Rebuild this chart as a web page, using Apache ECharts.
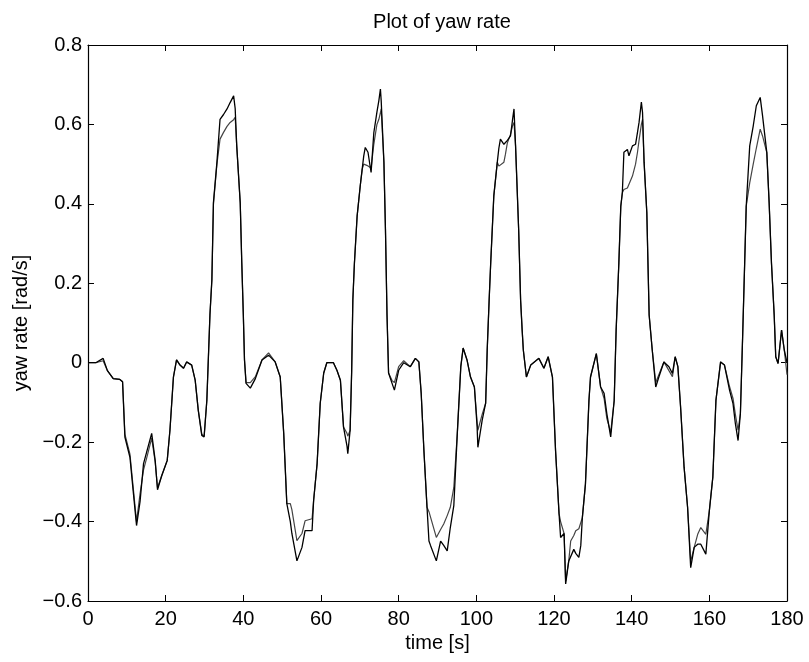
<!DOCTYPE html>
<html>
<head>
<meta charset="utf-8">
<script src="https://cdn.jsdelivr.net/npm/echarts@6/dist/echarts.min.js"></script>
<style>
html,body{margin:0;padding:0;background:#fff;}
#chart{width:809px;height:662px;}
</style>
</head>
<body>
<div id="chart"></div>
<script>
// time [s]
const time = [0,2,3.9,5,6.5,8.2,8.9,9.5,10.8,11.6,12.5,13.4,14.3,15.1,16.4,17.3,17.9,19.0,20.4,21.1,22.0,22.8,23.7,24.6,25.4,26.7,27.6,28.4,29.3,29.9,30.6,31.4,31.9,32.3,33.2,34.0,34.9,35.8,36.6,37.5,37.9,38.3,39.2,39.6,40.0,40.3,40.7,41.8,43.1,44.8,46.5,48.2,49.5,50.4,51.2,52.1,52.5,53.8,55.1,55.9,57.7,58.1,59.0,59.8,60.7,61.5,63.2,64.1,65.0,65.8,66.7,66.9,67.5,67.9,68.2,68.6,69.3,70.1,70.6,71.0,71.4,71.8,72.1,72.9,73.6,74.4,74.9,75.3,75.5,76.2,76.6,77.0,77.4,78.3,78.9,80.0,81.3,83.0,84.3,85.2,85.8,86.5,87.3,87.8,88.2,89.7,90.8,91.6,92.5,93.3,94.2,95.1,96.0,96.6,97.6,98.5,99.5,100.2,100.4,101.5,102.4,102.8,103.3,103.7,104.5,105.4,105.8,106.2,107.1,107.5,108.0,108.8,109.3,109.7,110.1,110.9,111.4,111.8,112.1,112.9,114.0,116.1,117.4,118.5,119.6,120.4,121.3,121.7,122.6,123.0,123.8,124.3,125.1,125.6,126.4,126.9,127.3,128.1,129.0,129.4,130.9,132.0,132.9,133.6,134.6,135.5,136.0,136.7,137.2,137.6,138.0,138.9,139.3,140.2,141.0,141.5,141.9,142.5,142.8,143.2,143.9,144.5,145.3,146.2,147.0,148.3,149.6,150.5,151.2,151.9,152.6,153.5,154.4,155.2,156.1,157.0,157.8,159.1,160.0,160.9,161.7,162.9,163.9,165.2,166.1,166.7,167.4,168.0,168.6,169.1,169.5,170.4,171.3,172.1,173.1,173.7,174.8,175.4,176.0,176.7,177.1,177.7,178.6,179.3,180];

// yaw rate [rad/s], first trace
const yawA = [0,0,0.011,-0.02,-0.04,-0.042,-0.048,-0.187,-0.238,-0.32,-0.41,-0.35,-0.254,-0.225,-0.178,-0.246,-0.32,-0.284,-0.246,-0.17,-0.036,0.007,-0.006,-0.014,0.002,-0.006,-0.044,-0.12,-0.183,-0.187,-0.095,0.12,0.209,0.403,0.505,0.613,0.625,0.639,0.655,0.672,0.64,0.546,0.403,0.251,0.12,0.007,-0.052,-0.064,-0.04,0.007,0.019,0.002,-0.036,-0.178,-0.355,-0.40,-0.43,-0.499,-0.465,-0.423,-0.423,-0.347,-0.254,-0.102,-0.026,0,0,-0.019,-0.044,-0.162,-0.21,-0.229,-0.17,-0.02,0.158,0.25,0.369,0.445,0.487,0.52,0.542,0.546,0.53,0.479,0.579,0.631,0.66,0.689,0.66,0.505,0.335,0.12,-0.026,-0.052,-0.069,-0.019,0,-0.01,0.011,0.002,-0.077,-0.221,-0.364,-0.449,-0.46,-0.499,-0.449,-0.46,-0.474,-0.415,-0.36,-0.178,-0.01,0.037,0.007,-0.036,-0.061,-0.162,-0.213,-0.145,-0.102,0.032,0.158,0.251,0.42,0.505,0.54,0.563,0.55,0.546,0.56,0.571,0.61,0.639,0.546,0.335,0.158,0.082,0.032,-0.036,-0.006,0.011,-0.014,0.015,-0.036,-0.221,-0.38,-0.44,-0.43,-0.557,-0.499,-0.499,-0.47,-0.48,-0.49,-0.46,-0.39,-0.305,-0.095,-0.036,0.023,-0.061,-0.077,-0.128,-0.187,-0.095,0.082,0.251,0.394,0.428,0.53,0.537,0.521,0.546,0.55,0.58,0.605,0.656,0.63,0.505,0.378,0.12,0.032,-0.061,-0.036,0.002,-0.01,-0.027,0.015,-0.01,-0.112,-0.263,-0.364,-0.516,-0.465,-0.457,-0.457,-0.482,-0.373,-0.288,-0.095,0.002,-0.006,-0.069,-0.103,-0.153,-0.196,-0.128,0.074,0.251,0.394,0.546,0.596,0.647,0.668,0.622,0.529,0.403,0.251,0.12,0.015,-0.002,0.082,0.032,0];

// yaw rate [rad/s], second trace
const yawB = [0,0,0.005,-0.02,-0.04,-0.042,-0.048,-0.18,-0.23,-0.31,-0.40,-0.33,-0.27,-0.24,-0.19,-0.25,-0.315,-0.284,-0.246,-0.17,-0.036,0.007,-0.006,-0.014,0.002,-0.006,-0.044,-0.12,-0.18,-0.185,-0.095,0.12,0.209,0.40,0.50,0.563,0.58,0.595,0.605,0.612,0.618,0.546,0.403,0.251,0.12,0.007,-0.05,-0.05,-0.035,0.007,0.025,0.002,-0.036,-0.178,-0.355,-0.355,-0.37,-0.448,-0.43,-0.398,-0.393,-0.347,-0.254,-0.102,-0.026,0,0,-0.019,-0.044,-0.162,-0.178,-0.185,-0.17,-0.02,0.158,0.25,0.369,0.445,0.487,0.50,0.50,0.497,0.495,0.49,0.55,0.60,0.613,0.63,0.639,0.505,0.335,0.12,-0.026,-0.045,-0.05,-0.01,0.005,-0.01,0.011,0.002,-0.077,-0.221,-0.364,-0.375,-0.38,-0.44,-0.42,-0.406,-0.385,-0.364,-0.314,-0.178,-0.01,0.037,0.007,-0.036,-0.061,-0.15,-0.17,-0.13,-0.102,0.032,0.158,0.251,0.42,0.505,0.495,0.50,0.505,0.525,0.554,0.575,0.596,0.605,0.546,0.335,0.158,0.082,0.032,-0.036,-0.006,0.011,-0.014,0.015,-0.036,-0.221,-0.38,-0.40,-0.43,-0.55,-0.499,-0.449,-0.435,-0.423,-0.418,-0.415,-0.39,-0.305,-0.095,-0.036,0.023,-0.061,-0.09,-0.14,-0.175,-0.095,0.082,0.251,0.394,0.428,0.436,0.44,0.445,0.47,0.50,0.53,0.56,0.60,0.613,0.505,0.378,0.12,0.032,-0.05,-0.03,0.002,-0.02,-0.035,0.015,-0.01,-0.112,-0.263,-0.364,-0.50,-0.465,-0.432,-0.415,-0.432,-0.373,-0.288,-0.095,0.002,-0.006,-0.06,-0.09,-0.13,-0.17,-0.128,0.074,0.251,0.394,0.453,0.50,0.54,0.588,0.571,0.529,0.403,0.251,0.12,0.015,-0.002,0.082,0.032,-0.03];

const xTicks = [0,20,40,60,80,100,120,140,160,180];
const yTicks = [-0.6,-0.4,-0.2,0,0.2,0.4,0.6,0.8];

const FONT = 'Liberation Sans';
const chart = echarts.init(document.getElementById('chart'), null, {renderer: 'canvas'});
const pairs = (ys) => time.map((t, i) => [t, ys[i]]);
const fmtY = v => {
  const r = Math.round(v * 10) / 10;
  if (Math.abs(r) < 1e-9) return '0';
  return r.toFixed(1).replace('-', '\u2212');
};
const axisLine = {show: true, onZero: false, lineStyle: {color: '#000', width: 1.2}};
const tickIn = {show: true, inside: true, length: 6, lineStyle: {color: '#000', width: 1}};

chart.setOption({
  animation: false,
  backgroundColor: '#fff',
  title: {
    text: 'Plot of yaw rate',
    left: 437, top: 7, textAlign: 'center',
    textStyle: {fontFamily: FONT, fontSize: 20, fontWeight: 'normal', color: '#000'}
  },
  grid: {left: 88, right: 22, top: 45, bottom: 61, containLabel: false},
  xAxis: [{
    type: 'value', min: xTicks[0], max: xTicks[xTicks.length - 1], interval: 20,
    position: 'bottom',
    name: 'time [s]', nameLocation: 'middle', nameGap: 32,
    nameTextStyle: {fontFamily: FONT, fontSize: 20, color: '#000'},
    axisLine, axisTick: tickIn, splitLine: {show: false},
    axisLabel: {fontFamily: FONT, fontSize: 20, color: '#000', margin: 8}
  }, {
    type: 'value', min: xTicks[0], max: xTicks[xTicks.length - 1], interval: 20,
    position: 'top',
    axisLine, axisTick: tickIn, splitLine: {show: false}, axisLabel: {show: false}
  }],
  yAxis: [{
    type: 'value', min: yTicks[0], max: yTicks[yTicks.length - 1], interval: 0.2,
    position: 'left',
    name: 'yaw rate [rad/s]', nameLocation: 'middle', nameGap: 56, nameRotate: 90,
    nameTextStyle: {fontFamily: FONT, fontSize: 20, color: '#000'},
    axisLine, axisTick: tickIn, splitLine: {show: false},
    axisLabel: {fontFamily: FONT, fontSize: 20, color: '#000', margin: 6, formatter: fmtY}
  }, {
    type: 'value', min: yTicks[0], max: yTicks[yTicks.length - 1], interval: 0.2,
    position: 'right',
    axisLine, axisTick: tickIn, splitLine: {show: false}, axisLabel: {show: false}
  }],
  series: [{
    type: 'line', data: pairs(yawB), xAxisIndex: 0, yAxisIndex: 0,
    showSymbol: false, symbol: 'none',
    lineStyle: {color: '#444', width: 1.2}
  }, {
    type: 'line', data: pairs(yawA), xAxisIndex: 0, yAxisIndex: 0,
    showSymbol: false, symbol: 'none',
    lineStyle: {color: '#000', width: 1.3}
  }]
});
</script>
</body>
</html>
